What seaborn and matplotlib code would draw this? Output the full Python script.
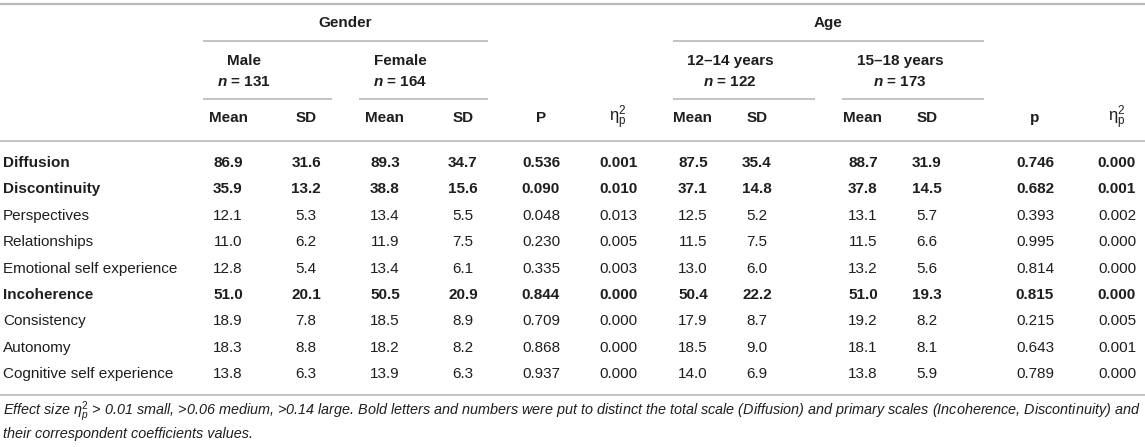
import pandas as pd
import matplotlib
matplotlib.use("Agg")
from matplotlib import pyplot as plt
import seaborn as sns

# table content
scales = ["Diffusion", "Discontinuity", "Perspectives", "Relationships",
          "Emotional self experience", "Incoherence", "Consistency",
          "Autonomy", "Cognitive self experience"]
bold_scales = ["Diffusion", "Discontinuity", "Incoherence"]

male_mean = [86.9, 35.9, 12.1, 11.0, 12.8, 51.0, 18.9, 18.3, 13.8]
male_sd = [31.6, 13.2, 5.3, 6.2, 5.4, 20.1, 7.8, 8.8, 6.3]
female_mean = [89.3, 38.8, 13.4, 11.9, 13.4, 50.5, 18.5, 18.2, 13.9]
female_sd = [34.7, 15.6, 5.5, 7.5, 6.1, 20.9, 8.9, 8.2, 6.3]
gender_p = [0.536, 0.090, 0.048, 0.230, 0.335, 0.844, 0.709, 0.868, 0.937]
gender_eta = [0.001, 0.010, 0.013, 0.005, 0.003, 0.000, 0.000, 0.000, 0.000]
young_mean = [87.5, 37.1, 12.5, 11.5, 13.0, 50.4, 17.9, 18.5, 14.0]
young_sd = [35.4, 14.8, 5.2, 7.5, 6.0, 22.2, 8.7, 9.0, 6.9]
old_mean = [88.7, 37.8, 13.1, 11.5, 13.2, 51.0, 19.2, 18.1, 13.8]
old_sd = [31.9, 14.5, 5.7, 6.6, 5.6, 19.3, 8.2, 8.1, 5.9]
age_p = [0.746, 0.682, 0.393, 0.995, 0.814, 0.815, 0.215, 0.643, 0.789]
age_eta = [0.000, 0.001, 0.002, 0.000, 0.000, 0.000, 0.005, 0.001, 0.000]

eta_hdr = r"$\mathrm{\eta}^{2}_{\mathrm{p}}$"
col_headers = ["Mean", "SD", "Mean", "SD", "P", eta_hdr,
               "Mean", "SD", "Mean", "SD", "p", eta_hdr]
group_labels = ["Male", "Female", "12–14 years", "15–18 years"]
group_n = [131, 164, 122, 173]
top_labels = ["Gender", "Age"]

footnote = (r"Effect size $\eta_p^2$ > 0.01 small, >0.06 medium, >0.14 large. "
            "Bold letters and numbers were put to distinct the total scale (Diffusion) "
            "and primary scales (Incoherence, Discontinuity) and\n"
            "their correspondent coefficients values.")

df = pd.DataFrame({
    "scale": scales,
    "male_mean": male_mean, "male_sd": male_sd,
    "female_mean": female_mean, "female_sd": female_sd,
    "gender_p": gender_p, "gender_eta": gender_eta,
    "young_mean": young_mean, "young_sd": young_sd,
    "old_mean": old_mean, "old_sd": old_sd,
    "age_p": age_p, "age_eta": age_eta,
})
value_cols = df.columns[1:]
decimals = [1, 1, 1, 1, 3, 3, 1, 1, 1, 1, 3, 3]

# layout (pixel coordinates of a 1145x447 canvas)
col_x = [228, 306, 385, 463, 541, 618, 693, 757, 863, 927, 1035, 1117]
group_x = [244, 400, 730, 900]
group_lines = [(203, 332), (359, 488), (673, 815), (842, 984)]
top_x = [345, 828]
top_lines = [(203, 488), (673, 984)]
row_y0, row_dy = 163, 26.4

sns.set_theme(style="white")
plt.rcParams["font.family"] = ["Liberation Sans", "DejaVu Sans"]
plt.rcParams["mathtext.fontset"] = "custom"
plt.rcParams["mathtext.rm"] = "Liberation Sans"
plt.rcParams["mathtext.it"] = "Liberation Sans:italic"
plt.rcParams["mathtext.sf"] = "Liberation Sans:italic:bold"

ink = "#1e1e1e"
rule = "#b9b9b9"
fs = 11

fig = plt.figure(figsize=(11.45, 4.47), dpi=100)
ax = fig.add_axes([0, 0, 1, 1])
ax.set_xlim(0, 1145)
ax.set_ylim(447, 0)
ax.axis("off")

# rules
ax.plot([0, 1145], [4, 4], color=rule, lw=1.6, solid_capstyle="butt")
ax.plot([0, 1145], [141, 141], color=rule, lw=1.2, solid_capstyle="butt")
ax.plot([0, 1145], [395, 395], color=rule, lw=1.2, solid_capstyle="butt")
for x0, x1 in top_lines:
    ax.plot([x0, x1], [41, 41], color=rule, lw=1.2, solid_capstyle="butt")
for x0, x1 in group_lines:
    ax.plot([x0, x1], [99, 99], color=rule, lw=1.2, solid_capstyle="butt")

# headers
for lab, x in zip(top_labels, top_x):
    ax.text(x, 23, lab, ha="center", va="center", fontsize=fs,
            fontweight="bold", color=ink)
for lab, n, x in zip(group_labels, group_n, group_x):
    ax.text(x, 61, lab, ha="center", va="center", fontsize=fs,
            fontweight="bold", color=ink)
    ax.text(x, 82, r"$\mathsf{n}$ = " + str(n), ha="center", va="center",
            fontsize=fs, fontweight="bold", color=ink)
for lab, x in zip(col_headers, col_x):
    size = fs + 1 if lab == eta_hdr else fs
    ax.text(x, 118, lab, ha="center", va="center", fontsize=size,
            fontweight="bold", color=ink)

# body
for i, row in df.iterrows():
    y = row_y0 + i * row_dy
    weight = "bold" if row["scale"] in bold_scales else "normal"
    ax.text(3, y, row["scale"], ha="left", va="center", fontsize=fs,
            fontweight=weight, color=ink)
    for col, x, d in zip(value_cols, col_x, decimals):
        ax.text(x, y, f"{row[col]:.{d}f}", ha="center", va="center",
                fontsize=fs, fontweight=weight, color=ink)

ax.text(3, 420, footnote, ha="left", va="center", fontsize=10.4,
        fontstyle="italic", color=ink, linespacing=1.3)

fig.savefig("out.png", dpi=100)
